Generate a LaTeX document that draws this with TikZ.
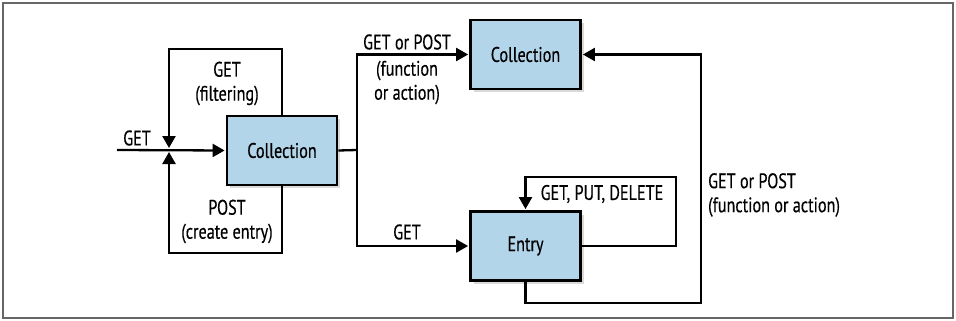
\documentclass[tikz,border=0pt]{standalone}
\usepackage{fontspec}
\setmainfont[FakeStretch=0.77,FakeBold=0.4]{PT Sans}
\usepackage{tikz}
\usetikzlibrary{arrows.meta,shadows}
\definecolor{boxblue}{HTML}{B3D5EA}

\begin{document}
\begin{tikzpicture}[x=1pt,y=-1pt,->,>={Triangle[length=12pt,width=13pt]},shorten >=1pt,line width=2.3pt,
	font=\fontsize{21}{24}\selectfont,
	res/.style={draw,fill=boxblue,line width=2.8pt,minimum width=110pt,minimum height=69pt,
		drop shadow={shadow xshift=3pt,shadow yshift=-3pt,opacity=.3}},
	lbl/.style={align=center,inner sep=0pt}]
	\useasboundingbox (0,0) rectangle (956,321);
	\draw [-,black!60,line width=1.4pt] (3,3) rectangle (953,318);

	\node [res]	(coll)		at (282,150.5)	{Collection};
	\node [res]	(result)	at (525.5,54.5)	{Collection};
	\node [res]	(entry)		at (525.5,246)	{Entry};

	\coordinate (in)		at (117,150);
	\coordinate (join)		at (169,150);
	\coordinate (top)		at (169,49);
	\coordinate (bot)		at (169,253);
	\coordinate (fork)		at (357,150);
	\coordinate (selfloop)	at (676,177);
	\coordinate (back)		at (701,303);

	% requests on the collection itself
	\draw (in) -- (coll.west);
	\draw [shorten >=2pt] (coll.north) |- (top) -- (join);
	\draw [shorten >=2pt] (coll.south) |- (bot) -- (join);
	\node [lbl] (getin)		at (137,138)	{GET};
	\node [lbl] (filter)	at (227,83.5)	{GET\\(filtering)};
	\node [lbl] (create)	at (227,221.5)	{POST\\(create entry)};

	% from the collection to function result and entries
	\draw [-,shorten >=0pt] (coll.east) -- (fork);
	\draw (fork) |- (result.west);
	\draw (fork) |- (entry.west);
	\node [lbl] (getpost)	at (407,42)		{GET or POST};
	\node [lbl] (funcact)	at (407,82.5)	{(function\\or action)};
	\node [lbl] (getentry)	at (407,232)	{GET};

	% entry loops
	\draw (entry.east) -| (selfloop) -| (entry.north);
	\node [lbl] (crud)		at (602,194)	{GET, PUT, DELETE};
	\draw (entry.south) |- (back) |- (result.east);
	\node [lbl,align=left,anchor=west] (entryfunc) at (707,195) {GET or POST\\(function or action)};
\end{tikzpicture}
\end{document}
